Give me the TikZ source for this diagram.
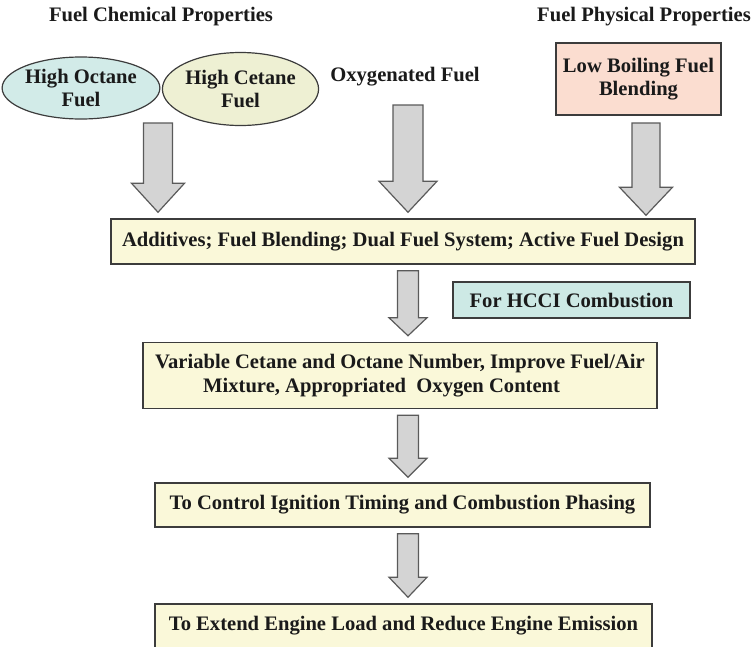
\documentclass[tikz,border=0pt]{standalone}
\usepackage{fontspec}
\setmainfont{Liberation Serif}
\usetikzlibrary{shapes.geometric,calc}
\definecolor{txt}{HTML}{1A1A1A}
\definecolor{edge}{HTML}{3C3C3C}
\definecolor{arrfill}{HTML}{D4D4D4}
\definecolor{arredge}{HTML}{5A5A5A}
\definecolor{cream}{HTML}{FAF8D9}
\definecolor{teal}{HTML}{D2EBE8}
\definecolor{olive}{HTML}{EEF0D3}
\definecolor{salmon}{HTML}{FBDDD0}
\definecolor{hcci}{HTML}{CDE9E5}
\tikzset{
  x=1pt, y=-1pt,
  lbl/.style={font=\fontsize{20.6}{23.5}\selectfont\bfseries, text=txt, inner sep=0pt, align=center},
  stepbox/.style={lbl, draw=edge, line width=1.5pt, fill=cream, rectangle},
  ovalbox/.style={lbl, draw=edge, line width=1.2pt, ellipse},
  blockarr/.style={draw=arredge, fill=arrfill, line width=1.2pt, line join=miter},
}
% #1 top coordinate, #2 tip coordinate, #3 half shaft, #4 half head, #5 head length
\newcommand{\blockarrow}[5]{%
  \draw[blockarr] let \p1=#1, \p2=#2 in
    (\x1-#3,\y1) -- (\x1+#3,\y1) -- (\x1+#3,\y2+#5) -- (\x1+#4,\y2+#5)
    -- (\x1,\y2) -- (\x1-#4,\y2+#5) -- (\x1-#3,\y2+#5) -- cycle;}
\begin{document}
\begin{tikzpicture}
\useasboundingbox (0,0) rectangle (752,646);
\clip (0,0) rectangle (752,646);
\fill[white] (0,0) rectangle (752,646);

\node[lbl] (chem) at (161,17) {Fuel Chemical Properties};
\node[lbl, anchor=east] (phys) at (751,17) {Fuel Physical Properties};

\node[ovalbox, fill=teal, minimum width=148, minimum height=62] (oct) at (81,88) {High Octane\\Fuel};
\node[ovalbox, fill=olive, minimum width=145, minimum height=73] (cet) at (240.5,89) {High Cetane\\Fuel};
\node[lbl] (oxy) at (405,77) {Oxygenated Fuel};
\node[stepbox, fill=salmon, minimum width=165, minimum height=72] (low) at (638.5,79) {Low Boiling Fuel\\Blending};

\node[stepbox, minimum width=584, minimum height=45] (box1) at (403,241.5) {Additives; Fuel Blending; Dual Fuel System; Active Fuel Design};
\node[stepbox, fill=hcci, minimum width=237, minimum height=36] (hcci) at (571.5,300) {For HCCI Combustion};
\node[stepbox, minimum width=514, minimum height=66, align=left] (box2) at (400,375.5) {Variable Cetane and Octane Number, Improve Fuel/Air\\\hspace*{48pt}Mixture, Appropriated\ \ Oxygen Content};
\node[stepbox, minimum width=495, minimum height=44] (box3) at (402.5,505) {To Control Ignition Timing and Combustion Phasing};
\node[stepbox, minimum width=497, minimum height=44] (box4) at (403.5,626) {To Extend Engine Load and Reduce Engine Emission};

\coordinate (tA) at (158,123);
\coordinate (tB) at (408,105);
\coordinate (tC) at (646,123);

\blockarrow{(tA)}{($(tA |- box1.north)+(0,-6)$)}{14.5pt}{26.5pt}{29pt}
\blockarrow{(tB)}{($(tB |- box1.north)+(0,-6)$)}{15pt}{29pt}{31pt}
\blockarrow{(tC)}{($(tC |- box1.north)+(0,-3)$)}{14pt}{26.5pt}{28pt}

\blockarrow{($(box1.south -| tB)+(0,6)$)}{($(box2.north -| tB)+(0,-6)$)}{10.5pt}{19pt}{18pt}
\blockarrow{($(box2.south -| tB)+(0,6)$)}{($(box3.north -| tB)+(0,-5)$)}{10.5pt}{19pt}{19pt}
\blockarrow{($(box3.south -| tB)+(0,6)$)}{($(box4.north -| tB)+(0,-6)$)}{10.5pt}{19pt}{20pt}
\end{tikzpicture}
\end{document}
